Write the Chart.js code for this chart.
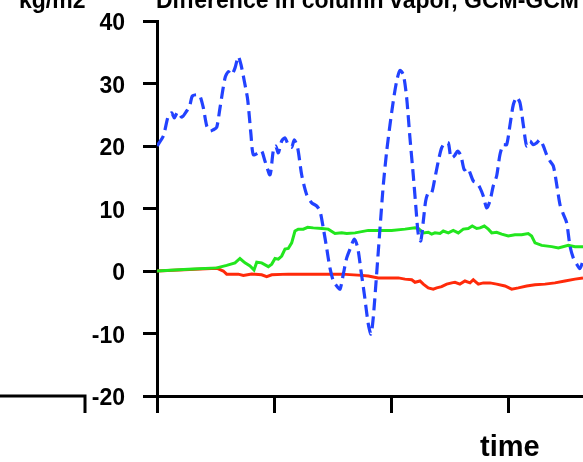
<!DOCTYPE html>
<html><head><meta charset="utf-8">
<script src="https://cdn.jsdelivr.net/npm/chart.js@4.4.0/dist/chart.umd.min.js"></script>
<style>html,body{margin:0;padding:0;background:#fff;overflow:hidden}canvas{display:block}</style>
</head><body>
<canvas id="c" width="583" height="462"></canvas>
<script>
// ---- data ----
const blueTime = [0,0.54,0.96,1.25,1.47,1.76,2.11,2.53,2.81,3.01,3.38,3.66,3.95,4.24,4.52,4.80,5.09,5.37,5.80,6.08,6.37,6.65,6.93,7.16,7.44,7.73,8.01,8.21,8.63,8.92,9.20,9.63,9.91,10.12,10.34,10.63,10.91,11.19,11.48,11.70,11.99,12.33,12.76,13.19,13.61,13.89,14.17,14.46,14.74,15.03,15.32,15.60,15.88,16.17,16.45,16.82,17.11,17.39,17.67,18.01,18.24,18.43,18.72,19.01,19.29,19.58,19.86,20.14,20.43,20.71,21.00,21.28,21.56,21.84,22.05,22.27,22.48,22.70,22.90,23.12,23.41,23.69,23.98,24.26,24.55,24.83,25.06,25.34,25.63,25.91,26.19,26.48,26.68,26.96,27.25,27.53,27.81,28.10,28.38,28.66,28.95,29.23,29.51,29.80,30.09,30.37,30.66,30.94,31.22,31.51,31.79,32.07,32.36,32.64,32.93,33.21,33.49,33.78,34.07,34.35,34.63,34.92,35.20,35.48,35.77,36.05,36.34,36.6];
const blueValues = [20.0,21.6,24.8,25.3,24.5,25.4,24.6,25.6,26.6,28.0,28.2,28.0,26.1,23.2,22.4,22.6,23.0,26.1,30.9,31.9,31.4,32.5,34.3,33.0,30.4,27.4,21.8,18.6,18.9,19.2,17.6,15.4,19.2,20.0,18.9,20.8,21.3,20.2,19.8,21.0,19.7,15.4,12.2,10.9,10.4,9.6,6.9,3.7,0.5,-1.6,-2.4,-2.9,-0.5,2.1,3.5,5.1,3.7,0.0,-3.7,-8.5,-10.1,-7.5,-0.5,6.9,13.8,19.2,23.4,27.2,30.4,32.1,31.4,27.7,21.3,15.4,10.6,5.9,4.8,8.0,11.2,12.5,12.5,14.9,17.6,19.7,20.5,20.5,18.1,18.4,19.2,18.4,16.2,16.5,15.7,14.4,14.1,13.3,12.0,10.1,11.2,13.6,15.2,18.6,20.2,20.2,23.4,26.6,27.8,26.9,23.4,20.0,20.8,20.2,20.5,21.0,20.0,18.6,17.6,16.8,13.8,10.6,9.1,7.7,4.0,2.1,1.1,0.4,1.9,4.0];

const greenTime = [0,2.67,5.09,5.94,6.65,7.07,7.50,7.93,8.27,8.50,8.92,9.49,9.78,10.06,10.34,10.63,10.91,11.19,11.48,11.76,12.04,12.47,12.84,13.32,14.04,14.60,15.17,15.74,16.17,16.88,18.01,18.86,20.00,21.14,21.99,22.27,22.70,23.12,23.41,23.69,24.12,24.40,24.83,25.25,25.68,26.11,26.53,26.87,27.25,27.53,27.90,28.24,28.53,28.95,29.38,29.94,30.51,31.08,31.64,31.93,32.22,32.79,33.64,34.21,35.06,35.63,36.31];
const greenValues = [0,0.27,0.5,0.9,1.3,2.0,1.3,0.8,0.16,1.4,1.3,0.7,1.1,2.0,1.9,2.4,3.5,3.6,4.5,6.4,6.7,6.7,7.0,6.9,6.8,6.7,6.0,6.1,6.0,6.1,6.5,6.5,6.5,6.7,6.9,6.8,6.1,6.2,5.9,6.1,6.0,6.4,6.1,6.5,6.1,6.7,6.8,7.2,6.8,6.9,7.2,6.7,6.1,6.2,5.9,5.6,5.8,5.8,6.0,5.6,4.5,4.1,3.9,3.7,4.1,3.9,3.9];

const redTime = [0,5.09,5.65,5.94,6.37,6.93,7.36,8.07,8.92,9.35,9.78,11.19,12.61,14.04,15.74,17.45,18.01,18.86,20.00,20.57,21.14,21.71,21.99,22.42,22.70,23.12,23.55,23.84,24.26,24.69,25.12,25.40,25.82,26.25,26.68,26.96,27.39,27.81,28.38,28.95,29.66,30.23,30.80,31.51,32.22,33.07,33.92,34.77,35.63,36.31];
const redValues = [0,0.45,0.0,-0.5,-0.5,-0.5,-0.7,-0.5,-0.6,-0.9,-0.6,-0.5,-0.5,-0.5,-0.5,-0.7,-0.8,-1.1,-1.1,-1.1,-1.3,-1.4,-1.8,-1.6,-2.1,-2.7,-2.9,-2.7,-2.5,-2.1,-1.9,-1.8,-2.1,-1.6,-1.9,-1.4,-2.1,-1.9,-1.9,-2.1,-2.4,-2.9,-2.7,-2.4,-2.2,-2.1,-1.9,-1.6,-1.3,-1.1];

const yTickValues = [-20,-10,0,10,20,30,40];
const xTickValues = [0,10,20,30];
const titleLeft = 'kg/m2';
const titleMain = 'Difference in column vapor, GCM-GCM';
const xAxisTitle = 'time';

function pairs(t, v){ return t.map((x,i)=>({x:x, y:v[i]})); }
const FONT = '"Liberation Sans", Arial, Helvetica, sans-serif';

const decor = {
  id:'decor',
  afterDraw(chart){
    const ctx = chart.ctx;
    ctx.save();
    ctx.fillStyle='#000';
    ctx.textBaseline='alphabetic';
    ctx.textAlign='left';
    ctx.font = 'bold 23px ' + FONT;
    ctx.fillText(titleLeft, 19, 8);
    ctx.fillText(titleMain, 156, 8);
    ctx.font = 'bold 29px ' + FONT;
    ctx.fillText(xAxisTitle, 480, 456);
    // fragment of neighbouring panel's axis
    ctx.strokeStyle='#000'; ctx.lineWidth=3; ctx.lineCap='butt';
    ctx.beginPath(); ctx.moveTo(0,396); ctx.lineTo(86.5,396); ctx.moveTo(85,394.5); ctx.lineTo(85,413); ctx.stroke();
    ctx.restore();
  }
};

new Chart(document.getElementById('c'), {
  type:'line',
  data:{ datasets:[
    {data:pairs(blueTime, blueValues), borderColor:'#2242ff', borderWidth:3.2, borderDash:[12,6], pointRadius:0, tension:0.25, fill:false},
    {data:pairs(greenTime, greenValues), borderColor:'#22e61e', borderWidth:3, pointRadius:0, tension:0, fill:false},
    {data:pairs(redTime, redValues), borderColor:'#ff2a0a', borderWidth:3, pointRadius:0, tension:0, fill:false}
  ]},
  options:{
    responsive:false, animation:false, devicePixelRatio:1,
    layout:{padding:{top:21,left:0,right:0,bottom:0}},
    plugins:{legend:{display:false}, tooltip:{enabled:false}, title:{display:false}},
    scales:{
      x:{type:'linear', min:0, max:36.31,
        border:{display:true, color:'#000', width:3},
        grid:{drawOnChartArea:false, drawTicks:true, tickLength:17, tickWidth:3, tickColor:'#000', color:'#000', lineWidth:3},
        ticks:{display:false},
        afterBuildTicks(s){ s.ticks = xTickValues.map(v=>({value:v})); },
        afterFit(s){ s.height = 66; s.paddingLeft = 0; s.paddingRight = 0; }
      },
      y:{type:'linear', min:-20, max:40,
        border:{display:true, color:'#000', width:3},
        grid:{drawOnChartArea:false, drawTicks:true, tickLength:14, tickWidth:3, tickColor:'#000', color:'#000', lineWidth:3},
        ticks:{color:'#000', padding:18, labelOffset:3, font:{family:FONT, size:23, weight:'bold'}},
        afterBuildTicks(s){ s.ticks = yTickValues.map(v=>({value:v})); },
        afterFit(s){ s.width = 157; s.paddingTop = 0; s.paddingBottom = 0; }
      }
    }
  },
  plugins:[decor]
});
</script>
</body></html>
